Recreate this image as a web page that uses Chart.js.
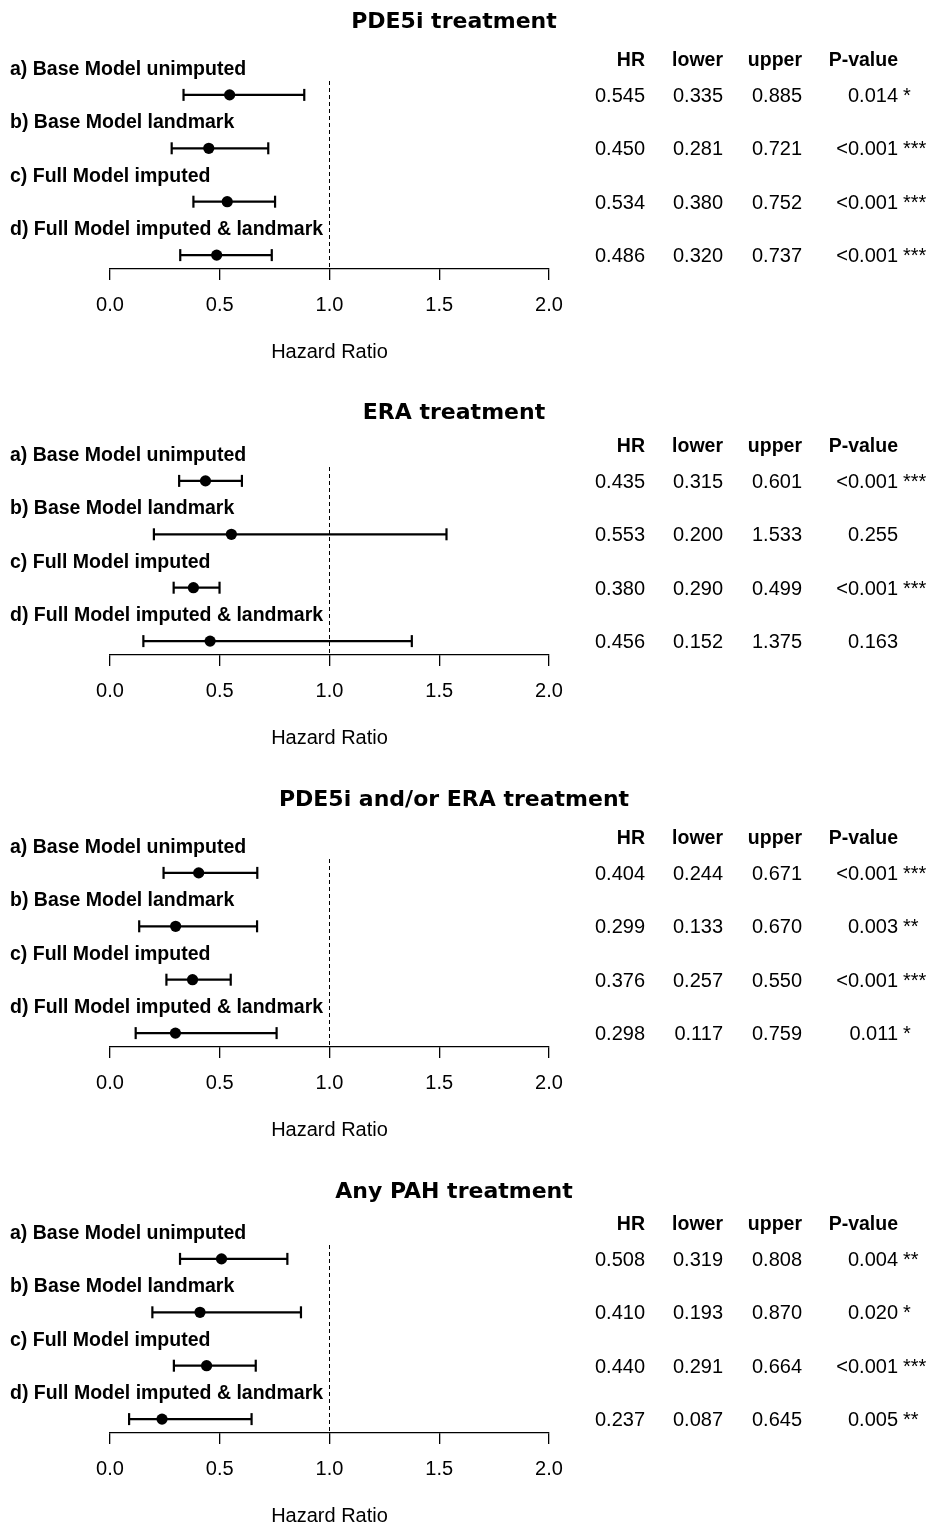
<!DOCTYPE html>
<html>
<head>
<meta charset="utf-8">
<script src="https://cdn.jsdelivr.net/npm/chart.js@4.4.1/dist/chart.umd.min.js"></script>
<style>
  html, body { margin: 0; padding: 0; background: #ffffff; }
  #wrap { position: relative; width: 929px; height: 1525px; overflow: hidden; }
  canvas { position: absolute; left: 0; }
</style>
</head>
<body>
<div id="wrap"></div>
<script>
// ---- data ----
const modelLabels = [
  'a) Base Model unimputed',
  'b) Base Model landmark',
  'c) Full Model imputed',
  'd) Full Model imputed & landmark'
];
const tableHeaders = ['HR', 'lower', 'upper', 'P-value'];
const xTickValues = [0, 0.5, 1.0, 1.5, 2.0];
const xTickLabels = ['0.0', '0.5', '1.0', '1.5', '2.0'];
const axisTitle = 'Hazard Ratio';
const referenceHR = 1.0;

const titlePDE5i = 'PDE5i treatment';
const hrPDE5i    = [0.545, 0.450, 0.534, 0.486];
const lowerPDE5i = [0.335, 0.281, 0.380, 0.320];
const upperPDE5i = [0.885, 0.721, 0.752, 0.737];
const pPDE5i     = ['0.014', '<0.001', '<0.001', '<0.001'];
const starsPDE5i = ['*', '***', '***', '***'];

const titleERA = 'ERA treatment';
const hrERA    = [0.435, 0.553, 0.380, 0.456];
const lowerERA = [0.315, 0.200, 0.290, 0.152];
const upperERA = [0.601, 1.533, 0.499, 1.375];
const pERA     = ['<0.001', '0.255', '<0.001', '0.163'];
const starsERA = ['***', '', '***', ''];

const titleEither = 'PDE5i and/or ERA treatment';
const hrEither    = [0.404, 0.299, 0.376, 0.298];
const lowerEither = [0.244, 0.133, 0.257, 0.117];
const upperEither = [0.671, 0.670, 0.550, 0.759];
const pEither     = ['<0.001', '0.003', '<0.001', '0.011'];
const starsEither = ['***', '**', '***', '*'];

const titleAny = 'Any PAH treatment';
const hrAny    = [0.508, 0.410, 0.440, 0.237];
const lowerAny = [0.319, 0.193, 0.291, 0.087];
const upperAny = [0.808, 0.870, 0.664, 0.645];
const pAny     = ['0.004', '0.020', '<0.001', '0.005'];
const starsAny = ['**', '*', '***', '**'];

// ---- layout ----
const W = 929;
const panels = [
  { title: titlePDE5i,  hr: hrPDE5i,  lo: lowerPDE5i,  hi: upperPDE5i,  p: pPDE5i,  s: starsPDE5i,  top: 0,    h: 386, titleY: 22 },
  { title: titleERA,    hr: hrERA,    lo: lowerERA,    hi: upperERA,    p: pERA,    s: starsERA,    top: 386,  h: 392, titleY: 27 },
  { title: titleEither, hr: hrEither, lo: lowerEither, hi: upperEither, p: pEither, s: starsEither, top: 778,  h: 386, titleY: 22 },
  { title: titleAny,    hr: hrAny,    lo: lowerAny,    hi: upperAny,    p: pAny,    s: starsAny,    top: 1164, h: 361, titleY: 28 }
];
const PLOT_LEFT = 110, PLOT_RIGHT = 549, PLOT_TOP = 81, AXIS_Y = 269;
const Y_MIN = -0.26, Y_MAX = 3.26;
const colRight = [645, 723, 802, 898];
const starX = 903;
const TEXT_NUDGE = 1.5; // visual centring of text against the row line

const SANS = '"Liberation Sans", Arial, Helvetica, sans-serif';
const TITLE_FONT = 'bold 22px "DejaVu Sans", sans-serif';

// Text around each forest plot: title, row labels, result table, axis title
const forestText = {
  id: 'forestText',
  afterDraw(chart) {
    const { ctx, scales } = chart;
    const panel = chart.options.plugins.forestText.panel;
    const ys = scales.y, xs = scales.x;
    ctx.save();
    ctx.fillStyle = '#000';
    ctx.textBaseline = 'middle';

    ctx.font = TITLE_FONT;
    ctx.textAlign = 'center';
    ctx.fillText(panel.title, 454, panel.titleY);

    ctx.font = 'bold 19.5px ' + SANS;
    ctx.textAlign = 'left';
    modelLabels.forEach((lab, i) => ctx.fillText(lab, 10, ys.getPixelForValue(i - 0.5) + TEXT_NUDGE));

    ctx.textAlign = 'right';
    const headY = ys.getPixelForValue(-0.67) + TEXT_NUDGE;
    tableHeaders.forEach((h, j) => ctx.fillText(h, colRight[j], headY));

    ctx.font = '20px ' + SANS;
    panel.hr.forEach((v, i) => {
      const y = ys.getPixelForValue(i) + TEXT_NUDGE;
      ctx.textAlign = 'right';
      ctx.fillText(v.toFixed(3), colRight[0], y);
      ctx.fillText(panel.lo[i].toFixed(3), colRight[1], y);
      ctx.fillText(panel.hi[i].toFixed(3), colRight[2], y);
      ctx.fillText(panel.p[i], colRight[3], y);
      if (panel.s[i]) {
        ctx.textAlign = 'left';
        ctx.fillText(panel.s[i], starX, y);
      }
    });

    ctx.textAlign = 'center';
    ctx.fillText(axisTitle, xs.getPixelForValue(referenceHR), AXIS_Y + 83);
    ctx.restore();
  }
};

const wrap = document.getElementById('wrap');

panels.forEach(panel => {
  const canvas = document.createElement('canvas');
  canvas.width = W;
  canvas.height = panel.h;
  canvas.style.top = panel.top + 'px';
  canvas.style.width = W + 'px';
  canvas.style.height = panel.h + 'px';
  wrap.appendChild(canvas);

  const intervalSets = panel.hr.map((v, i) => ({
    type: 'line',
    data: [{ x: panel.lo[i], y: i }, { x: panel.hi[i], y: i }],
    borderColor: '#000',
    borderWidth: 2.2,
    pointStyle: 'line',
    rotation: 90,
    pointRadius: 6,
    pointBorderWidth: 2.2,
    pointBorderColor: '#000',
    order: 2,
    clip: false
  }));

  const estimateSet = {
    type: 'scatter',
    data: panel.hr.map((v, i) => ({ x: v, y: i })),
    pointStyle: 'circle',
    pointRadius: 5.6,
    backgroundColor: '#000',
    borderColor: '#000',
    borderWidth: 0,
    order: 1,
    clip: false
  };

  const referenceSet = {
    type: 'line',
    data: [{ x: referenceHR, y: Y_MIN }, { x: referenceHR, y: Y_MAX }],
    borderColor: '#000',
    borderWidth: 1,
    borderDash: [4, 3],
    pointRadius: 0,
    order: 3
  };

  new Chart(canvas, {
    type: 'scatter',
    data: { datasets: [referenceSet, ...intervalSets, estimateSet] },
    options: {
      responsive: false,
      animation: false,
      devicePixelRatio: 1,
      layout: { padding: { left: PLOT_LEFT, right: W - PLOT_RIGHT, top: PLOT_TOP, bottom: 0 } },
      plugins: {
        legend: { display: false },
        tooltip: { enabled: false },
        title: { display: false },
        forestText: { panel }
      },
      scales: {
        x: {
          type: 'linear',
          min: 0,
          max: 2,
          afterBuildTicks: s => { s.ticks = xTickValues.map(v => ({ value: v })); },
          afterFit: s => { s.height = panel.h - AXIS_Y; },
          ticks: {
            callback: (v) => xTickLabels[xTickValues.indexOf(v)],
            color: '#000',
            font: { family: SANS, size: 20 },
            padding: 13,
            maxRotation: 0,
            autoSkip: false
          },
          grid: {
            drawOnChartArea: false,
            drawTicks: true,
            tickLength: 11,
            color: '#000',
            lineWidth: 1.3
          },
          border: { display: true, color: '#000', width: 1.3 }
        },
        y: {
          type: 'linear',
          display: false,
          reverse: true,
          min: Y_MIN,
          max: Y_MAX
        }
      }
    },
    plugins: [forestText]
  });
});
</script>
</body>
</html>
